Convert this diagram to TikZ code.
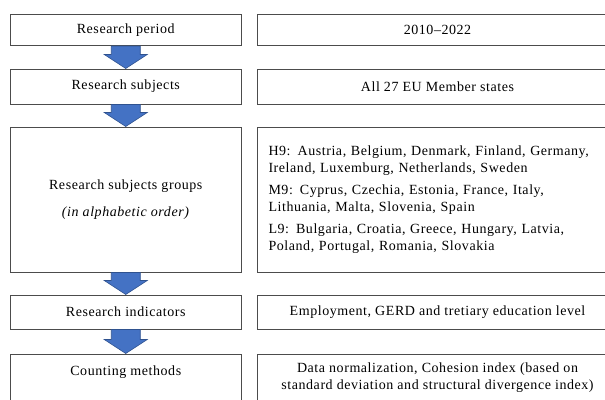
\documentclass[tikz,border=0pt]{standalone}
\usepackage{fontspec}
\setmainfont{Liberation Serif}[LetterSpace=4]
\usetikzlibrary{calc}
\definecolor{arrowblue}{HTML}{4472C4}
\definecolor{arrowedge}{HTML}{2F528F}
\begin{document}
\begin{tikzpicture}[x=1pt,y=-1pt,every node/.style={font=\fontsize{14}{16.5}\selectfont},
  box/.style={draw=black!70,line width=1pt,inner sep=0pt,minimum width=231.5pt},
  valbox/.style={draw=black!70,line width=1pt,inner sep=0pt,minimum width=360pt,anchor=west},
  barrow/.style={fill=arrowblue,draw=arrowedge,line width=0.6pt}]
\useasboundingbox (0,0) rectangle (605,399);
\clip (0,0) rectangle (605,399);
% left column
\node[box,minimum height=31.5pt] (period) at (125.75,29.75) {Research period};
\node[box,minimum height=35pt] (subj) at (125.75,86.5) {Research subjects};
\node[box,minimum height=145pt,align=center] (groups) at (125.75,199.5) {Research subjects groups\\[10pt]\textit{(in alphabetic order)}};
\node[box,minimum height=34pt] (ind) at (125.75,312) {Research indicators};
\node[box,minimum height=47pt,text depth=13pt] (meth) at (125.75,377.5) {Counting methods};
% right column
\node[valbox,minimum height=31.5pt] (periodval) at (257,29.75) {2010--2022};
\node[valbox,minimum height=35pt] (subjval) at (257,86.5) {All 27 EU Member states};
\node[valbox,minimum height=145pt,inner xsep=11pt,text width=338pt,align=left] (groupsval) at (257,199.5) {H9: Austria, Belgium, Denmark, Finland, Germany,\\Ireland, Luxemburg, Netherlands, Sweden\\[6pt]M9: Cyprus, Czechia, Estonia, France, Italy,\\Lithuania, Malta, Slovenia, Spain\\[6pt]L9: Bulgaria, Croatia, Greece, Hungary, Latvia,\\Poland, Portugal, Romania, Slovakia};
\node[valbox,minimum height=34pt] (indval) at (257,312) {Employment, GERD and tretiary education level};
\node[valbox,minimum height=47pt,align=center] (methval) at (257,377.5) {Data normalization, Cohesion index (based on\\standard deviation and structural divergence index)};
% block arrows
\foreach \a/\b in {period/subj,subj/groups,groups/ind,ind/meth}
  \draw[barrow] ($(\a.south)+(-14.5,0)$) -- ($(\b.north)+(-14.5,-14)$) -- ($(\b.north)+(-21.5,-14)$) -- (\b.north) -- ($(\b.north)+(21.5,-14)$) -- ($(\b.north)+(14.5,-14)$) -- ($(\a.south)+(14.5,0)$) -- cycle;
\end{tikzpicture}
\end{document}
